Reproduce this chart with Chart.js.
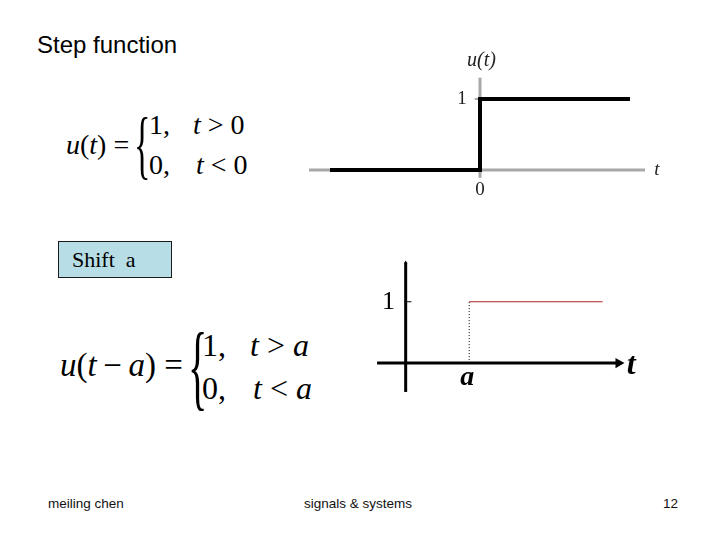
<!DOCTYPE html>
<html>
<head>
<meta charset="utf-8">
<script src="https://cdn.jsdelivr.net/npm/chart.js@4"></script>
<style>
  html, body { margin: 0; padding: 0; background: #fff; }
  #slide { position: relative; width: 720px; height: 540px; background: #fff; overflow: hidden; }
  .t { position: absolute; white-space: nowrap; line-height: 1; color: #000; }
  .sans { font-family: "Liberation Sans", Arial, sans-serif; }
  .serif { font-family: "Liberation Serif", "Times New Roman", serif; }
  .i { font-style: italic; }
  canvas { position: absolute; }
  #box { position: absolute; left: 58px; top: 241px; width: 114px; height: 37px; background: #b7dde6; border: 1px solid #1a1a1a; box-sizing: border-box; }
  .brace { display: inline-block; transform-origin: left center; }
</style>
</head>
<body>
<div id="slide">
  <div class="t sans" style="left:37px; top:33px; font-size:24px;">Step function</div>

  <!-- equation 1 -->
  <div class="t serif" style="left:66px; top:131px; font-size:28px;"><span class="i">u</span>(<span class="i">t</span>)&nbsp;=</div>
  <div class="t serif" style="left:134px; top:106px; font-size:76px;"><span class="brace" style="transform:scaleX(0.45);">{</span></div>
  <div class="t serif" style="left:149px; top:111px; font-size:28px;">1,</div>
  <div class="t serif" style="left:193px; top:111px; font-size:28px;"><span class="i">t</span> &gt; 0</div>
  <div class="t serif" style="left:149px; top:151px; font-size:28px;">0,</div>
  <div class="t serif" style="left:196px; top:151px; font-size:28px;"><span class="i">t</span> &lt; 0</div>

  <div id="box"></div>
  <div class="t serif" style="left:72px; top:249px; font-size:22px;">Shift&nbsp;&nbsp;a</div>

  <!-- equation 2 -->
  <div class="t serif" style="left:60px; top:349px; font-size:33px;"><span class="i">u</span>(<span class="i">t</span>&thinsp;−&thinsp;<span class="i">a</span>)&nbsp;=</div>
  <div class="t serif" style="left:188px; top:318px; font-size:96px;"><span class="brace" style="transform:scaleX(0.42);">{</span></div>
  <div class="t serif" style="left:202px; top:329px; font-size:32px;">1,</div>
  <div class="t serif" style="left:250px; top:329px; font-size:32px;"><span class="i">t</span> &gt; <span class="i">a</span></div>
  <div class="t serif" style="left:202px; top:372px; font-size:32px;">0,</div>
  <div class="t serif" style="left:253px; top:372px; font-size:32px;"><span class="i">t</span> &lt; <span class="i">a</span></div>

  <!-- footer -->
  <div class="t sans" style="left:48px; top:497px; font-size:13.5px; color:#111;">meiling chen</div>
  <div class="t sans" style="left:304px; top:497px; font-size:13.5px; color:#111;">signals &amp; systems</div>
  <div class="t sans" style="left:663px; top:497px; font-size:13.5px; color:#111;">12</div>

  <canvas id="c1" width="380" height="170" style="left:300px; top:40px;"></canvas>
  <canvas id="c2" width="320" height="170" style="left:340px; top:240px;"></canvas>
</div>

<script>
// ---- data: unit step u(t) ----
const stepT = [-1, 0, 0, 1];
const stepU = [0, 0, 1, 1];
const axis1X = [-1.14, 1.1];
const axis1Y = [-0.11, 1.3];
const tick1 = [-0.035, 0];

// ---- data: shifted step u(t-a), a = 1 ----
const shiftA = 1;
const shiftT = [1, 3.1];
const shiftU = [1, 1];
const dropU = [0, 1];
const axis2X = [-0.45, 3.35];
const axis2Y = [-0.47, 1.64];
const tick2 = [0, 0.09];

// ---- labels ----
const labels1 = [
  { text: 'u(t)', x: 0.01, y: 1.54, font: 'italic 20px "Liberation Serif"' },
  { text: '1', x: -0.12, y: 1, font: '19px "Liberation Serif"' },
  { text: '0', x: 0, y: -0.28, font: '19px "Liberation Serif"' },
  { text: 't', x: 1.18, y: 0, font: 'italic 19px "Liberation Serif"' }
];
const labels2 = [
  { text: '1', x: -0.27, y: 1, font: '26px "Liberation Serif"' },
  { text: 'a', x: 0.97, y: -0.24, font: 'bold italic 28px "Liberation Serif"' },
  { text: 't', x: 3.55, y: -0.04, font: 'bold italic 32px "Liberation Serif"' }
];

function pts(xs, ys) { return xs.map((x, i) => ({ x: x, y: ys[i] })); }

const textPlugin = {
  id: 'textLabels',
  afterDatasetsDraw(chart, args, opts) {
    const ctx = chart.ctx;
    const sx = chart.scales.x, sy = chart.scales.y;
    ctx.save();
    ctx.fillStyle = opts.color || '#000';
    ctx.textAlign = 'center';
    ctx.textBaseline = 'middle';
    (opts.items || []).forEach(l => {
      ctx.font = l.font;
      ctx.fillText(l.text, sx.getPixelForValue(l.x), sy.getPixelForValue(l.y));
    });
    ctx.restore();
  }
};

function baseOptions(xmin, xmax, ymin, ymax, items, color) {
  return {
    responsive: false,
    animation: false,
    layout: { padding: 0 },
    scales: {
      x: { type: 'linear', display: false, min: xmin, max: xmax },
      y: { type: 'linear', display: false, min: ymin, max: ymax }
    },
    plugins: {
      legend: { display: false },
      tooltip: { enabled: false },
      textLabels: { items: items, color: color }
    },
    elements: { point: { radius: 0 }, line: { tension: 0, borderCapStyle: 'butt', borderJoinStyle: 'miter' } }
  };
}

const grey = '#a8a8a8';
new Chart(document.getElementById('c1'), {
  type: 'line',
  data: {
    datasets: [
      { data: pts(stepT, stepU), borderColor: '#000', borderWidth: 4, order: 0 },
      { data: pts(tick1, [1, 1]), borderColor: grey, borderWidth: 2, order: 1 },
      { data: pts(axis1X, [0, 0]), borderColor: grey, borderWidth: 3, order: 2 },
      { data: pts([0, 0], axis1Y), borderColor: grey, borderWidth: 3, order: 3 }
    ]
  },
  options: baseOptions(-1.2, 1.3333, -0.5634, 1.831, labels1, '#222'),
  plugins: [textPlugin]
});

new Chart(document.getElementById('c2'), {
  type: 'line',
  data: {
    datasets: [
      { data: pts(shiftT, shiftU), borderColor: '#b02020', borderWidth: 1 },
      { data: pts([shiftA, shiftA], dropU), borderColor: '#000', borderWidth: 1, borderDash: [1, 2] },
      { data: pts(tick2, [1, 1]), borderColor: '#000', borderWidth: 1 },
      { data: pts(axis2X, [0, 0]), borderColor: '#000', borderWidth: 3,
        pointRadius: [0, 6], pointStyle: 'triangle', rotation: 90, backgroundColor: '#000', pointBorderWidth: 0 },
      { data: pts([0, 0], axis2Y), borderColor: '#000', borderWidth: 3,
        pointRadius: [0, 2], pointStyle: 'triangle', backgroundColor: '#000', pointBorderWidth: 0 }
    ]
  },
  options: baseOptions(-0.9394, 3.9091, -0.6667, 1.9091, labels2, '#000'),
  plugins: [textPlugin]
});
</script>
</body>
</html>
